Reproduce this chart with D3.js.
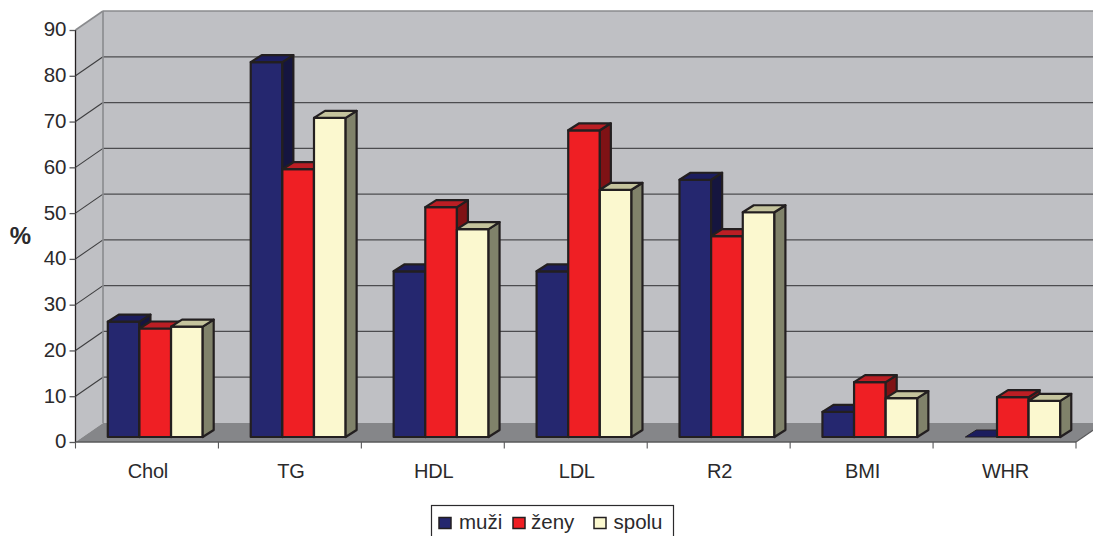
<!DOCTYPE html>
<html><head><meta charset="utf-8">
<script src="https://cdn.jsdelivr.net/npm/d3@7"></script>
<style>html,body{margin:0;padding:0;background:#fff}svg{display:block}text{font-family:"Liberation Sans",Arial,sans-serif;fill:#2b2a2c}</style>
</head><body><svg id="c" width="1093" height="536"></svg>
<script>
const categories=["Chol","TG","HDL","LDL","R2","BMI","WHR"];
const seriesNames=["muži","ženy","spolu"];
const muzi=[25.2,81.9,36.2,36.2,56.2,5.5,0];
const zeny=[23.7,58.5,50.2,67,43.9,12,8.7];
const spolu=[24.1,69.7,45.4,54,49.1,8.5,7.9];
const yTicks=[0,10,20,30,40,50,60,70,80,90];
const seriesValues=[muzi,zeny,spolu];
const faceColors=["#25276f","#ef1f24","#fbf8cf"];
const topColors=["#1c1d5e","#bb1e24","#c5c49d"];
const sideColors=["#15153f","#7f1215","#80826a"];
const edge="#231f20";

const svg=d3.select("#c");
const x=d3.scaleBand().domain(categories).range([75.5,1076]);
const y=d3.scaleLinear().domain([0,90]).range([442,30]);
const sub=d3.scaleBand().domain(d3.range(3)).range([32.3,127.2]);
const back={dx:27.5,dy:-19}, floorFront={dy:-5}, depth={dx:11,dy:-7};
const poly=(pts,fill,stroke,w)=>svg.append("polygon").attr("points",pts.map(p=>p.join(",")).join(" "))
  .attr("fill",fill).attr("stroke",stroke||"none").attr("stroke-width",w||0).attr("stroke-linejoin","round");
const line=(a,b,stroke,w)=>svg.append("line").attr("x1",a[0]).attr("y1",a[1]).attr("x2",b[0]).attr("y2",b[1]).attr("stroke",stroke).attr("stroke-width",w);

const [xL,xR]=x.range(), y0=y(0), yT=y(90);
// walls
poly([[xL+back.dx,yT+back.dy],[xR+back.dx,yT+back.dy],[xR+back.dx,y0+back.dy],[xL+back.dx,y0+back.dy]],"#bfc0c4");
poly([[xL,yT],[xL+back.dx,yT+back.dy],[xL+back.dx,y0+back.dy],[xL,y0]],"#bfc0c4");
poly([[xL,y0],[xL+back.dx,y0+back.dy],[xR+back.dx,y0+back.dy],[xR,y0]],"#858689");
// gridlines
yTicks.filter(t=>t>0&&t<90).forEach(t=>{
  line([xL,y(t)],[xL+back.dx,y(t)+back.dy],"#3d3d3f",1.1);
  line([xL+back.dx,y(t)+back.dy],[xR+back.dx,y(t)+back.dy],"#4c4c4f",1.3);
});
line([xL,yT],[xL+back.dx,yT+back.dy],"#8a8b8e",1.6);
line([xL+back.dx,yT+back.dy],[xR+back.dx,yT+back.dy],"#8a8b8e",1.6);
line([xL+back.dx,yT+back.dy],[xL+back.dx,y0+back.dy],"#8a8b8e",1.6);
// axes frame
line([xL,yT],[xL,y0],"#231f20",1.3);
line([xL,y0],[xR,y0],"#58585a",1.6);
line([xR,y0],[xR+back.dx*0.62,y0+back.dy*0.62],"#58585a",1.2);
const ax=d3.axisLeft(y).tickValues(yTicks).tickSize(6).tickPadding(3);
const gy=svg.append("g").attr("transform",`translate(${xL},0)`).call(ax);
gy.select(".domain").remove();
gy.selectAll("line").attr("stroke","#58585a").attr("stroke-width",1.3);
gy.selectAll("text").style("font-size","20.5px").attr("dy","0.29em");
const tickXs=categories.map(c=>x(c)).concat([xR]);
tickXs.forEach(t=>line([t,y0],[t,y0+6.5],"#58585a",1.1));
categories.forEach(c=>svg.append("text").attr("x",x(c)+x.bandwidth()/2+1).attr("y",478).attr("text-anchor","middle").style("font-size","20px").style("letter-spacing","-0.2px").text(c));
svg.append("text").attr("x",20.5).attr("y",244).attr("text-anchor","middle").style("font-size","24px").style("font-weight","bold").text("%");
// bars
const base=y0+floorFront.dy;
const h=v=>y0-y(v);
categories.forEach((c,i)=>{
  seriesValues.forEach((vals,s)=>{
    const v=vals[i], l=x(c)+sub(s), r=l+sub.bandwidth(), t=base-h(v);
    const d=depth, sw=2.2;
    if(v>0){
      poly([[l,t],[r,t],[r,base],[l,base]],faceColors[s],edge,sw);
      poly([[r,t],[r+d.dx,t+d.dy],[r+d.dx,base+d.dy],[r,base]],sideColors[s],edge,sw);
    }
    poly([[l,t],[l+d.dx,t+d.dy],[r+d.dx,t+d.dy],[r,t]],topColors[s],edge,v>0?sw:1);
  });
});
// legend
svg.append("rect").attr("x",431.5).attr("y",505.5).attr("width",242).attr("height",40).attr("fill","#fff").attr("stroke","#2b2a2c").attr("stroke-width",1.2);
const legX=d3.scaleOrdinal().domain(seriesNames).range([439,513,594]);
const legT=d3.scaleOrdinal().domain(seriesNames).range([459,531,613.5]);
seriesNames.forEach((n,s)=>{
  svg.append("rect").attr("x",legX(n)).attr("y",517.5).attr("width",12).attr("height",11).attr("fill",faceColors[s]).attr("stroke",edge).attr("stroke-width",1.5);
  svg.append("text").attr("x",legT(n)).attr("y",529).style("font-size","20.5px").text(n);
});
</script></body></html>
